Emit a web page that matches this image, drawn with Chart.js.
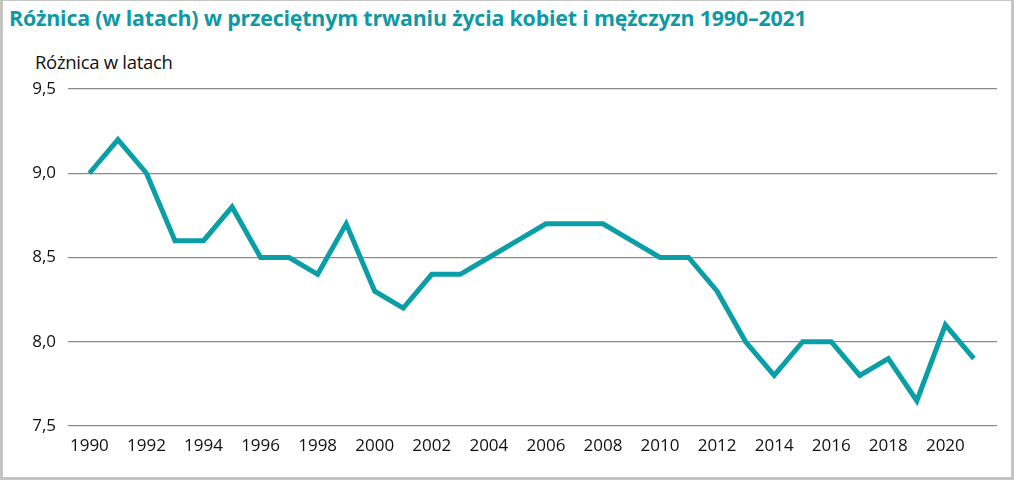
<html lang="pl">
<head>
    <meta charset="UTF-8">
    <title>Różnica w przeciętnym trwaniu życia</title>
    <script src="https://cdn.jsdelivr.net/npm/chart.js"></script>
    <style>
        body {
            margin: 0;
            padding: 0;
            background: #fff;
            font-family: "Open Sans", sans-serif;
        }

        .frame {
            position: relative;
            width: 1014px;
            height: 480px;
            box-sizing: border-box;
            border: 3px solid #c4c4c4;
            border-top-width: 1px;
            background: #fff;
        }

        .title {
            position: absolute;
            left: 6px;
            top: 2px;
            margin: 0;
            font-size: 21.4px;
            font-weight: bold;
            color: #0f9aa3;
            letter-spacing: -0.2px;
        }

        .ylabel {
            position: absolute;
            left: 32px;
            top: 48px;
            font-size: 18.5px;
            color: #111;
            letter-spacing: -0.3px;
        }

        .chart-box {
            position: absolute;
            left: -3px;
            top: -1px;
            width: 1014px;
            height: 480px;
        }
    </style>
</head>
<body>
    <div class="frame">
        <h1 class="title">Różnica (w latach) w przeciętnym trwaniu życia kobiet i mężczyzn 1990–2021</h1>
        <div class="ylabel">Różnica w latach</div>
        <div class="chart-box">
            <canvas id="gapChart" width="1014" height="480"></canvas>
        </div>
    </div>

    <script>
        // data
        const years = [1990, 1991, 1992, 1993, 1994, 1995, 1996, 1997, 1998, 1999,
                       2000, 2001, 2002, 2003, 2004, 2005, 2006, 2007, 2008, 2009,
                       2010, 2011, 2012, 2013, 2014, 2015, 2016, 2017, 2018, 2019,
                       2020, 2021];
        const gap = [9.0, 9.2, 9.0, 8.6, 8.6, 8.8, 8.5, 8.5, 8.4, 8.7,
                     8.3, 8.2, 8.4, 8.4, 8.5, 8.6, 8.7, 8.7, 8.7, 8.6,
                     8.5, 8.5, 8.3, 8.0, 7.8, 8.0, 8.0, 7.8, 7.9, 7.65,
                     8.1, 7.9];
        const xTicks = [1990, 1992, 1994, 1996, 1998, 2000, 2002, 2004, 2006, 2008,
                        2010, 2012, 2014, 2016, 2018, 2020];
        const yTicks = [7.5, 8.0, 8.5, 9.0, 9.5];

        document.addEventListener("DOMContentLoaded", function() {
            const ctx = document.getElementById("gapChart").getContext("2d");
            const points = years.map((y, i) => ({ x: y, y: gap[i] }));

            new Chart(ctx, {
                type: 'line',
                data: {
                    datasets: [{
                        data: points,
                        borderColor: '#0a9ea6',
                        borderWidth: 5,
                        pointRadius: 0,
                        tension: 0,
                        fill: false
                    }]
                },
                options: {
                    responsive: false,
                    animation: false,
                    layout: {
                        padding: { top: 89, right: 17, bottom: 24, left: 0 }
                    },
                    plugins: {
                        legend: { display: false },
                        tooltip: { enabled: false }
                    },
                    scales: {
                        x: {
                            type: 'linear',
                            min: 1989.25,
                            max: 2021.81,
                            grid: { display: false },
                            border: { display: false },
                            afterBuildTicks: function(axis) {
                                axis.ticks = xTicks.map(v => ({ value: v }));
                            },
                            afterFit: function(axis) {
                                axis.height = 30;
                            },
                            ticks: {
                                autoSkip: false,
                                maxRotation: 0,
                                padding: 2,
                                color: '#111',
                                font: { family: 'Open Sans', size: 17 },
                                callback: v => String(v)
                            }
                        },
                        y: {
                            min: 7.5,
                            max: 9.5,
                            afterBuildTicks: function(axis) {
                                axis.ticks = yTicks.map(v => ({ value: v }));
                            },
                            afterFit: function(axis) {
                                axis.width = 68;
                            },
                            grid: {
                                color: '#8a8a8a',
                                lineWidth: 1.3,
                                drawTicks: false
                            },
                            border: { display: false },
                            ticks: {
                                padding: 12,
                                color: '#111',
                                font: { family: 'Open Sans', size: 17 },
                                callback: v => v.toFixed(1).replace('.', ',')
                            }
                        }
                    }
                }
            });
        });
    </script>
</body>
</html>
